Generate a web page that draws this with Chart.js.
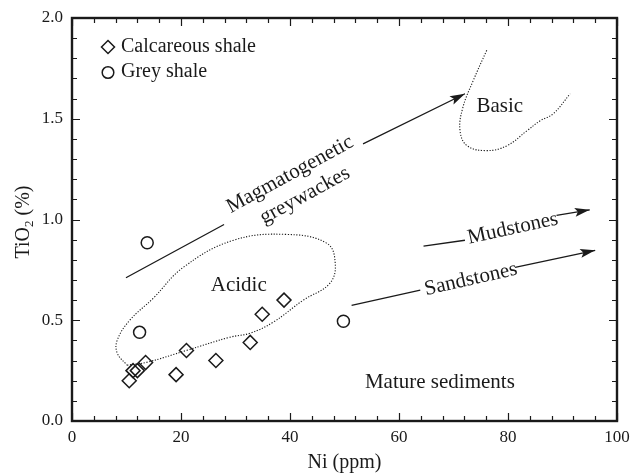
<!DOCTYPE html>
<html>
<head>
<meta charset="utf-8">
<script src="https://cdn.jsdelivr.net/npm/chart.js@4/dist/chart.umd.min.js"></script>
<style>
  html, body { margin: 0; padding: 0; background: #fff; }
  #wrap { width: 630px; height: 476px; }
</style>
</head>
<body>
<div id="wrap"><canvas id="grafico" width="630" height="476"></canvas></div>
<script>
// dados
var calcNi = [10.5, 11.2, 12.0, 13.5, 19.1, 21.0, 26.4, 32.7, 34.9, 38.9];
var calcTi = [0.20, 0.25, 0.25, 0.29, 0.23, 0.35, 0.30, 0.39, 0.53, 0.60];
var greyNi = [12.4, 13.8, 49.8];
var greyTi = [0.44, 0.885, 0.495];

// campo "Acidic" (curva fechada)
var acidNi = [10.1, 13.8, 21.1, 29.0, 32.7, 36.9, 42.4, 47.3, 48.3, 46.8, 39.4, 29.5, 20.4, 14.9, 10.6, 8.3, 8.3, 10.1];
var acidTi = [0.277, 0.292, 0.351, 0.416, 0.436, 0.490, 0.599, 0.683, 0.782, 0.881, 0.926, 0.896, 0.762, 0.609, 0.500, 0.401, 0.337, 0.277];
// campo "Basic"
var basicNi = [76.1, 73.6, 71.7, 71.2, 72.5, 76.1, 79.8, 83.5, 85.9, 88.3, 91.4];
var basicTi = [1.840, 1.688, 1.554, 1.441, 1.366, 1.342, 1.366, 1.441, 1.490, 1.525, 1.624];

// setas (null = espaco do texto)
var magmaNi = [9.9, 27.9, null, 53.4, 72.1];
var magmaTi = [0.711, 0.975, null, 1.375, 1.624];
var mudNi = [64.5, 72.1, null, 88.9, 95.0];
var mudTi = [0.868, 0.897, null, 1.020, 1.048];
var sandNi = [51.3, 63.9, null, 81.3, 96.0];
var sandTi = [0.574, 0.649, null, 0.762, 0.847];

var xTicks = [0, 20, 40, 60, 80, 100];
var yTicks = [0.0, 0.5, 1.0, 1.5, 2.0];

var fonte = "'Liberation Serif', 'Times New Roman', serif";
var cor = "#1a1a1a";

function pares(xs, ys) {
    return xs.map(function (x, i) {
        return x === null ? { x: null, y: null } : { x: x, y: ys[i] };
    });
}

function linha(xs, ys, tracejado) {
    return {
        type: "line",
        data: pares(xs, ys),
        showLine: true,
        borderColor: cor,
        borderWidth: tracejado ? 1.1 : 1.3,
        borderDash: tracejado ? [1.2, 1.6] : [],
        tension: tracejado ? 0.4 : 0,
        pointRadius: 0,
        spanGaps: false,
        fill: false
    };
}

// rotulos de texto no grafico (coordenadas de dados)
var rotulos = [
    { t: "Acidic", x: 30.6, y: 0.673, a: 0 },
    { t: "Basic", x: 78.5, y: 1.56, a: 0 },
    { t: "Mature sediments", x: 67.5, y: 0.193, a: 0 },
    { t: "Mudstones", x: 80.9, y: 0.955, a: -12.3 },
    { t: "Sandstones", x: 73.2, y: 0.703, a: -12.8 },
    { t: "Magmatogenetic", x: 40.0, y: 1.223, a: -28.6 },
    { t: "greywackes", x: 42.75, y: 1.119, a: -28.6 }
];

var decoracao = {
    id: "decoracao",
    afterDraw: function (chart) {
        var ctx = chart.ctx;
        var xs = chart.scales.x, ys = chart.scales.y;
        var area = chart.chartArea;
        ctx.save();
        ctx.strokeStyle = cor;
        ctx.fillStyle = cor;

        // ticks para dentro
        ctx.lineWidth = 1.2;
        for (var v = 0; v <= 100; v += 4) {
            var px = Math.round(xs.getPixelForValue(v)) + 0.5;
            var len = (v % 20 === 0) ? 8 : 5;
            ctx.beginPath();
            ctx.moveTo(px, area.bottom); ctx.lineTo(px, area.bottom - len);
            ctx.moveTo(px, area.top); ctx.lineTo(px, area.top + len);
            ctx.stroke();
        }
        for (var k = 0; k <= 20; k++) {
            var py = Math.round(ys.getPixelForValue(k / 10)) + 0.5;
            var l2 = (k % 5 === 0) ? 8 : 5;
            ctx.beginPath();
            ctx.moveTo(area.left, py); ctx.lineTo(area.left + l2, py);
            ctx.moveTo(area.right, py); ctx.lineTo(area.right - l2, py);
            ctx.stroke();
        }
        // moldura
        ctx.lineWidth = 2.4;
        ctx.strokeRect(area.left, area.top, area.right - area.left, area.bottom - area.top);

        // pontas das setas
        [[magmaNi, magmaTi], [mudNi, mudTi], [sandNi, sandTi]].forEach(function (s) {
            var n = s[0].length;
            var x1 = xs.getPixelForValue(s[0][n - 2]), y1 = ys.getPixelForValue(s[1][n - 2]);
            var x2 = xs.getPixelForValue(s[0][n - 1]), y2 = ys.getPixelForValue(s[1][n - 1]);
            var ang = Math.atan2(y2 - y1, x2 - x1);
            ctx.save();
            ctx.translate(x2, y2);
            ctx.rotate(ang);
            ctx.beginPath();
            ctx.moveTo(0, 0);
            ctx.lineTo(-15, -4.5);
            ctx.lineTo(-12, 0);
            ctx.lineTo(-15, 4.5);
            ctx.closePath();
            ctx.fill();
            ctx.restore();
        });

        // textos
        ctx.font = "21px " + fonte;
        ctx.textAlign = "center";
        ctx.textBaseline = "middle";
        rotulos.forEach(function (r) {
            ctx.save();
            ctx.translate(xs.getPixelForValue(r.x), ys.getPixelForValue(r.y));
            ctx.rotate(r.a * Math.PI / 180);
            ctx.fillText(r.t, 0, 0);
            ctx.restore();
        });

        // legenda
        var lx = 108;
        ctx.lineWidth = 1.5;
        ctx.beginPath();
        ctx.moveTo(lx, 40.5); ctx.lineTo(lx + 6.5, 47); ctx.lineTo(lx, 53.5); ctx.lineTo(lx - 6.5, 47);
        ctx.closePath();
        ctx.stroke();
        ctx.beginPath();
        ctx.arc(lx, 72.5, 5.8, 0, Math.PI * 2);
        ctx.stroke();
        ctx.textAlign = "left";
        ctx.font = "20px " + fonte;
        ctx.fillText("Calcareous shale", 121, 47);
        ctx.fillText("Grey shale", 121, 72);

        // titulos dos eixos
        ctx.textAlign = "center";
        ctx.fillText("Ni (ppm)", (area.left + area.right) / 2, 463);
        ctx.save();
        ctx.translate(24, 222);
        ctx.rotate(-Math.PI / 2);
        var w1 = ctx.measureText("TiO").width;
        ctx.font = "13px " + fonte;
        var w2 = ctx.measureText("2").width;
        ctx.font = "20px " + fonte;
        var w3 = ctx.measureText(" (%)").width;
        var x0 = -(w1 + w2 + w3) / 2;
        ctx.textAlign = "left";
        ctx.fillText("TiO", x0, 0);
        ctx.font = "13px " + fonte;
        ctx.fillText("2", x0 + w1, 6);
        ctx.font = "20px " + fonte;
        ctx.fillText(" (%)", x0 + w1 + w2, 0);
        ctx.restore();

        ctx.restore();
    }
};

var datasets = [
    {
        label: "Calcareous shale",
        data: pares(calcNi, calcTi),
        pointStyle: "rectRot",
        pointRadius: 7,
        borderColor: cor,
        backgroundColor: "rgba(0,0,0,0)",
        pointBorderWidth: 1.5
    },
    {
        label: "Grey shale",
        data: pares(greyNi, greyTi),
        pointStyle: "circle",
        pointRadius: 6,
        borderColor: cor,
        backgroundColor: "rgba(0,0,0,0)",
        pointBorderWidth: 1.5
    },
    linha(acidNi, acidTi, true),
    linha(basicNi, basicTi, true),
    linha(magmaNi, magmaTi, false),
    linha(mudNi, mudTi, false),
    linha(sandNi, sandTi, false)
];

new Chart(document.getElementById("grafico"), {
    type: "scatter",
    data: { datasets: datasets },
    plugins: [decoracao],
    options: {
        responsive: false,
        animation: false,
        layout: { padding: { top: 18, right: 13, left: 0, bottom: 0 } },
        plugins: {
            legend: { display: false },
            tooltip: { enabled: false }
        },
        scales: {
            x: {
                type: "linear",
                min: 0, max: 100,
                afterFit: function (s) { s.height = 55; s.paddingLeft = 0; s.paddingRight = 0; },
                afterBuildTicks: function (s) { s.ticks = xTicks.map(function (v) { return { value: v }; }); },
                grid: { display: false, drawTicks: false },
                border: { display: false },
                ticks: {
                    padding: 6,
                    color: cor,
                    font: { family: fonte, size: 17 },
                    callback: function (v) { return String(v); }
                }
            },
            y: {
                type: "linear",
                min: 0, max: 2,
                afterFit: function (s) { s.width = 72; s.paddingTop = 0; s.paddingBottom = 0; },
                afterBuildTicks: function (s) { s.ticks = yTicks.map(function (v) { return { value: v }; }); },
                grid: { display: false, drawTicks: false },
                border: { display: false },
                ticks: {
                    padding: 9,
                    color: cor,
                    font: { family: fonte, size: 17 },
                    callback: function (v) { return v.toFixed(1); }
                }
            }
        }
    }
});
</script>
</body>
</html>
